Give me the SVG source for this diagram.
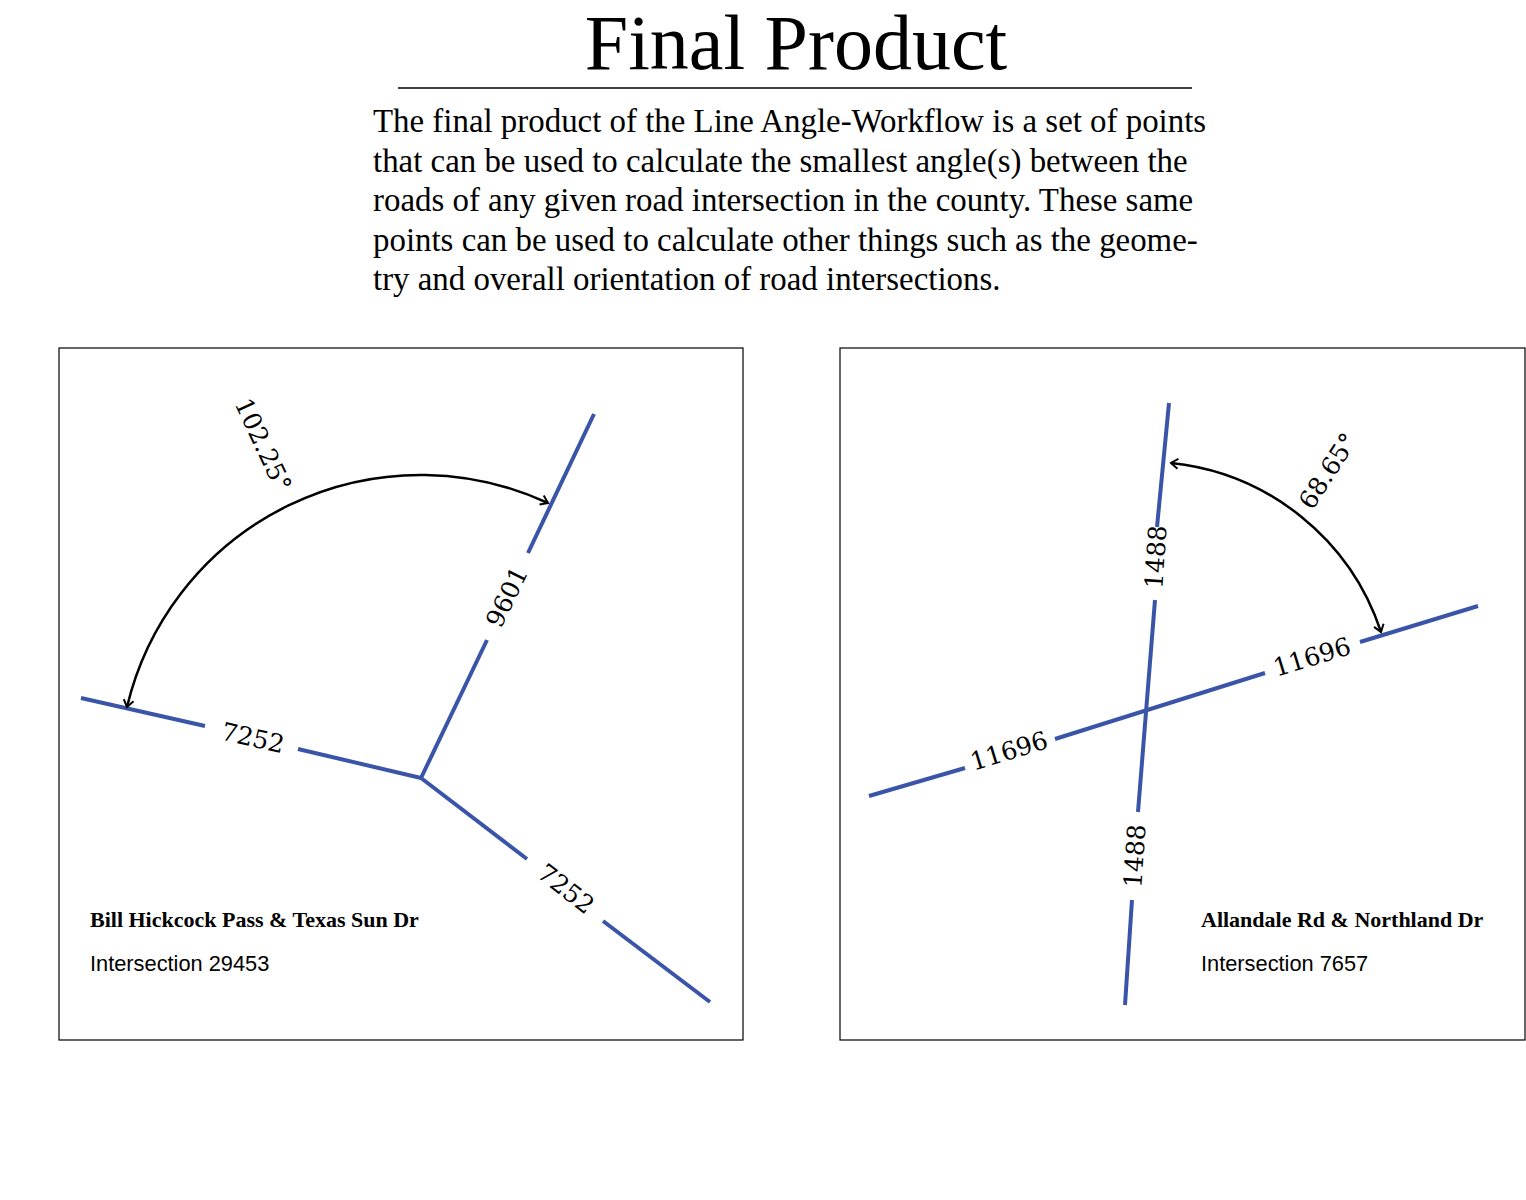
<svg xmlns="http://www.w3.org/2000/svg" width="1526" height="1200" viewBox="0 0 1526 1200">
<style>
.road{stroke:#3a55a8;stroke-width:4;fill:none}
.arc{stroke:#000;stroke-width:2.5;fill:none;marker-start:url(#ah);marker-end:url(#ah)}
.lbl{font-family:"DejaVu Serif",serif;font-size:25px;text-anchor:middle;dominant-baseline:central}
.panel{fill:#fff;stroke:#000;stroke-width:1.2}
.nm{font-family:"Liberation Serif",serif;font-weight:bold;font-size:22px}
.id{font-family:"Liberation Sans",sans-serif;font-size:21.8px}
.p{font-family:"Liberation Serif",serif;font-size:32.9px}
</style>
<defs>
<marker id="ah" markerWidth="12" markerHeight="12" refX="9" refY="6" orient="auto-start-reverse" markerUnits="userSpaceOnUse">
<path d="M2,1 L9,6 L2,11" fill="none" stroke="#000" stroke-width="2"/>
</marker>
</defs>
<rect width="1526" height="1200" fill="#fff"/>
<g id="title">
<text x="796" y="69" font-family="Liberation Serif,serif" font-size="78" text-anchor="middle">Final Product</text>
<line x1="398" y1="88" x2="1192" y2="88" stroke="#000" stroke-width="1.5"/>
</g>
<g id="desc">
<text x="373" y="132" class="p">The final product of the Line Angle-Workflow is a set of points</text>
<text x="373" y="172" class="p">that can be used to calculate the smallest angle(s) between the</text>
<text x="373" y="211" class="p">roads of any given road intersection in the county. These same</text>
<text x="373" y="251" class="p">points can be used to calculate other things such as the geome-</text>
<text x="373" y="290" class="p">try and overall orientation of road intersections.</text>
</g>
<g id="panel-left">
<rect class="panel" x="59" y="348" width="684" height="692"/>
<text class="nm" x="90" y="927">Bill Hickcock Pass &amp; Texas Sun Dr</text>
<text class="id" x="90" y="971">Intersection 29453</text>
</g>
<g id="panel-right">
<rect class="panel" x="840" y="348" width="685" height="692"/>
<text class="nm" x="1201" y="927">Allandale Rd &amp; Northland Dr</text>
<text class="id" x="1201" y="971">Intersection 7657</text>
</g>
<g id="connectors">
<path class="road" d="M421,778 L298,749 M205,726 L81,698"/>
<path class="road" d="M421,778 L487,640 M528,553 L594,414"/>
<path class="road" d="M421,778 L527,859 M603,921 L710,1002"/>
<path class="arc" d="M548,503 A302,302 0 0 0 127,707"/>
<path class="road" d="M1169,403 L1157,527 M1155,600 L1138,812 M1132,900 L1125,1005"/>
<path class="road" d="M869,796 L965,768 M1055,739 L1265,673 M1360,642 L1478,606"/>
<path class="arc" d="M1171,463 A248,248 0 0 1 1381,632"/>
</g>
<g id="labels">
<text class="lbl" transform="translate(253,738) rotate(13)">7252</text>
<text class="lbl" transform="translate(507,597) rotate(-64)">9601</text>
<text class="lbl" transform="translate(566,889) rotate(38)">7252</text>
<text class="lbl" transform="translate(263,445) rotate(65)">102.25°</text>
<text class="lbl" transform="translate(1156,557) rotate(-86)">1488</text>
<text class="lbl" transform="translate(1135,856) rotate(-86)">1488</text>
<text class="lbl" transform="translate(1009,751) rotate(-17)">11696</text>
<text class="lbl" transform="translate(1312,657) rotate(-17)">11696</text>
<text class="lbl" transform="translate(1328,471) rotate(-57)">68.65°</text>
</g>
</svg>
